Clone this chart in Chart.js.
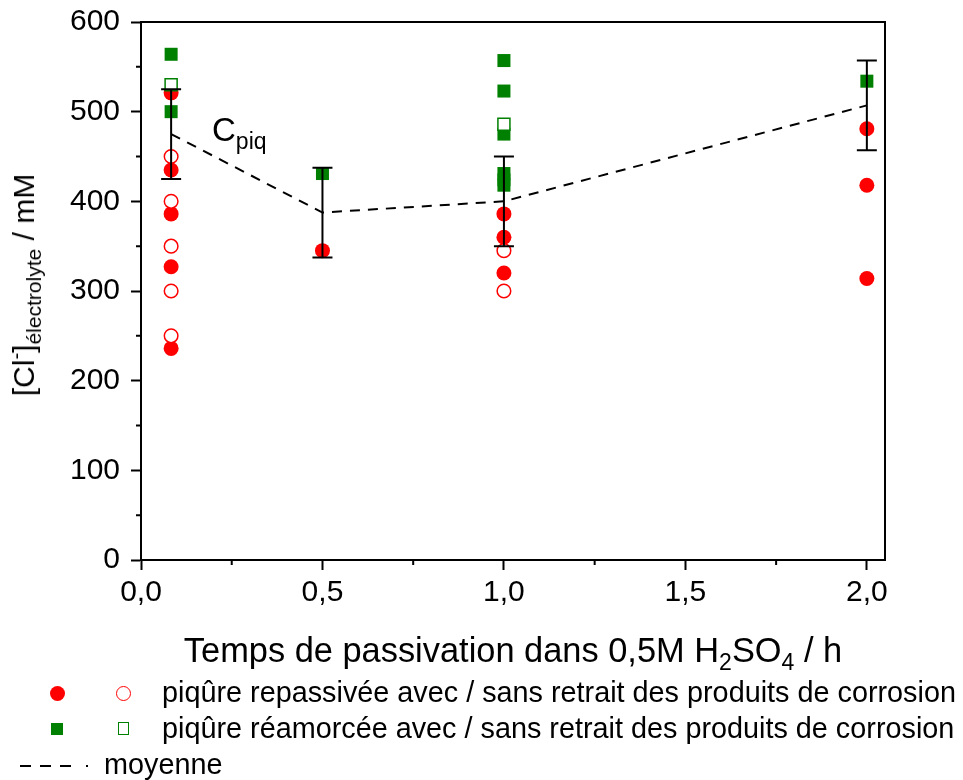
<!DOCTYPE html>
<html lang="fr">
<head>
  <meta charset="UTF-8">
  <title>[Cl-] électrolyte vs temps de passivation</title>
  <script src="https://cdn.jsdelivr.net/npm/chart.js"></script>
  <style>
    body { margin: 0; background: #fff; }
    #wrap { position: relative; width: 963px; height: 780px; font-family: "Liberation Sans", Arial, sans-serif; color: #000; }
    #chart { position: absolute; left: 0; top: 0; }
    .txt { position: absolute; white-space: nowrap; line-height: 1; }
    sub, sup { line-height: 0; }
    .mk { position: absolute; box-sizing: border-box; }
  </style>
</head>
<body>
<div id="wrap">
  <canvas id="chart" width="963" height="780"></canvas>

  <!-- titres d'axes -->
  <div class="txt" id="ytitle" style="left:24px;top:285px;font-size:30px;transform:translate(-50%,-50%) rotate(-90deg);">[Cl<sup style="font-size:20px">-</sup>]<sub style="font-size:21px">électrolyte</sub> / mM</div>
  <div class="txt" style="left:513px;top:633px;font-size:34.4px;transform:translateX(-50%);">Temps de passivation dans 0,5M H<sub style="font-size:23px">2</sub>SO<sub style="font-size:23px">4</sub> / h</div>

  <!-- annotation -->
  <div class="txt" style="left:212px;top:113px;font-size:33px;">C<sub style="font-size:23px">piq</sub></div>

  <!-- légende -->
  <div class="mk" style="left:50px;top:686px;width:15px;height:15px;border-radius:50%;background:#ff0000;"></div>
  <div class="mk" style="left:116px;top:686px;width:15px;height:15px;border-radius:50%;border:1.5px solid #ff0000;"></div>
  <div class="txt" style="left:162px;top:678px;font-size:28.8px;">piqûre repassivée avec / sans retrait des produits de corrosion</div>

  <div class="mk" style="left:51px;top:723px;width:12px;height:12px;background:#008000;"></div>
  <div class="mk" style="left:118px;top:722px;width:11px;height:13px;border:1.5px solid #008000;"></div>
  <div class="txt" style="left:162px;top:714px;font-size:28.8px;">piqûre réamorcée avec / sans retrait des produits de corrosion</div>

  <div class="mk" style="left:20px;top:765px;width:55px;height:2px;background:repeating-linear-gradient(90deg,#000 0 11px,transparent 11px 20px);"></div>
  <div class="mk" style="left:86px;top:765px;width:2px;height:2px;background:#000;"></div>
  <div class="txt" style="left:104px;top:750px;font-size:28.8px;">moyenne</div>
</div>

<script>
  // temps de passivation (h)
  const xTicks = [0, 0.5, 1.0, 1.5, 2.0];
  const xMinor = [0.25, 0.75, 1.25, 1.75];
  const yTicks = [0, 100, 200, 300, 400, 500, 600];
  const yMinor = [50, 150, 250, 350, 450, 550];

  // piqûre repassivée, avec retrait (rond plein)
  const repassAvecX = [0.083, 0.083, 0.083, 0.083, 0.083, 0.5, 1.0, 1.0, 1.0, 2.0, 2.0, 2.0];
  const repassAvecY = [521, 435, 386, 327, 236, 345, 386, 360, 320, 481, 418, 314];
  // piqûre repassivée, sans retrait (rond vide)
  const repassSansX = [0.083, 0.083, 0.083, 0.083, 0.083, 1.0, 1.0];
  const repassSansY = [450, 400, 350, 300, 250, 345, 300];
  // piqûre réamorcée, avec retrait (carré plein)
  const reamAvecX = [0.083, 0.083, 0.5, 1.0, 1.0, 1.0, 1.0, 1.0, 1.0, 2.0];
  const reamAvecY = [564, 500, 431, 557, 523, 475, 431, 424, 418, 534];
  // piqûre réamorcée, sans retrait (carré vide)
  const reamSansX = [0.083, 1.0];
  const reamSansY = [530, 486];
  // moyenne et écart
  const moyX = [0.083, 0.5, 1.0, 2.0];
  const moyY = [475, 387.5, 400, 507];
  const moyErr = [50, 50, 50, 50];

  const pts = (xs, ys) => xs.map((x, i) => ({ x: x, y: ys[i] }));
  const fmtX = v => v.toFixed(1).replace('.', ',');

  // cadre, petites graduations et barres d'erreur
  const extras = {
    id: 'extras',
    afterDatasetsDraw(chart) {
      const ctx = chart.ctx;
      const xs = chart.scales.x, ys = chart.scales.y;
      const a = chart.chartArea;
      ctx.save();
      ctx.strokeStyle = '#000';
      ctx.lineWidth = 2;
      // barres d'erreur
      moyX.forEach((x, i) => {
        const px = xs.getPixelForValue(x);
        const top = ys.getPixelForValue(moyY[i] + moyErr[i]);
        const bot = ys.getPixelForValue(moyY[i] - moyErr[i]);
        ctx.beginPath();
        ctx.moveTo(px, top); ctx.lineTo(px, bot);
        ctx.moveTo(px - 10, top); ctx.lineTo(px + 10, top);
        ctx.moveTo(px - 10, bot); ctx.lineTo(px + 10, bot);
        ctx.stroke();
      });
      // cadre haut / droite
      ctx.beginPath();
      ctx.moveTo(a.left, a.top); ctx.lineTo(a.right, a.top); ctx.lineTo(a.right, a.bottom);
      ctx.stroke();
      // petites graduations
      ctx.beginPath();
      yMinor.forEach(v => { const p = ys.getPixelForValue(v); ctx.moveTo(a.left, p); ctx.lineTo(a.left - 5, p); });
      xMinor.forEach(v => { const p = xs.getPixelForValue(v); ctx.moveTo(p, a.bottom); ctx.lineTo(p, a.bottom + 5); });
      ctx.stroke();
      ctx.restore();
    }
  };

  const axisFont = { family: 'Liberation Sans, Arial', size: 30, lineHeight: 1 };

  new Chart(document.getElementById('chart').getContext('2d'), {
    type: 'scatter',
    data: {
      datasets: [
        { data: pts(reamSansX, reamSansY), pointStyle: 'rect', pointRadius: 8.5, backgroundColor: '#fff', borderColor: '#008000', borderWidth: 1.5 },
        { data: pts(reamAvecX, reamAvecY), pointStyle: 'rect', pointRadius: 9.2, backgroundColor: '#008000', borderColor: '#008000', borderWidth: 0 },
        { data: pts(repassSansX, repassSansY), pointStyle: 'circle', pointRadius: 6.8, backgroundColor: '#fff', borderColor: '#ff0000', borderWidth: 1.5 },
        { data: pts(repassAvecX, repassAvecY), pointStyle: 'circle', pointRadius: 7.5, backgroundColor: '#ff0000', borderColor: '#ff0000', borderWidth: 0 },
        { type: 'line', data: pts(moyX, moyY), borderColor: '#000', borderWidth: 2, borderDash: [10, 8], pointRadius: 0, fill: false, tension: 0 }
      ]
    },
    options: {
      responsive: false,
      animation: false,
      events: [],
      layout: { padding: { left: 0, right: 78, top: 22, bottom: 162 } },
      plugins: { legend: { display: false }, tooltip: { enabled: false } },
      scales: {
        x: {
          type: 'linear', min: 0, max: 2.05,
          afterFit: s => { s.height = 58; s.paddingLeft = 0; s.paddingRight = 0; },
          afterBuildTicks: s => { s.ticks = xTicks.map(v => ({ value: v })); },
          ticks: { color: '#000', font: axisFont, padding: 8, maxRotation: 0, callback: v => fmtX(v) },
          grid: { drawOnChartArea: false, drawTicks: true, tickLength: 10, tickColor: '#000', tickWidth: 2 },
          border: { display: true, color: '#000', width: 2 }
        },
        y: {
          min: 0, max: 600,
          afterFit: s => { s.width = 141; s.paddingTop = 0; s.paddingBottom = 0; },
          afterBuildTicks: s => { s.ticks = yTicks.map(v => ({ value: v })); },
          ticks: { color: '#000', font: axisFont, padding: 11 },
          grid: { drawOnChartArea: false, drawTicks: true, tickLength: 10, tickColor: '#000', tickWidth: 2 },
          border: { display: true, color: '#000', width: 2 }
        }
      }
    },
    plugins: [extras]
  });
</script>
</body>
</html>
